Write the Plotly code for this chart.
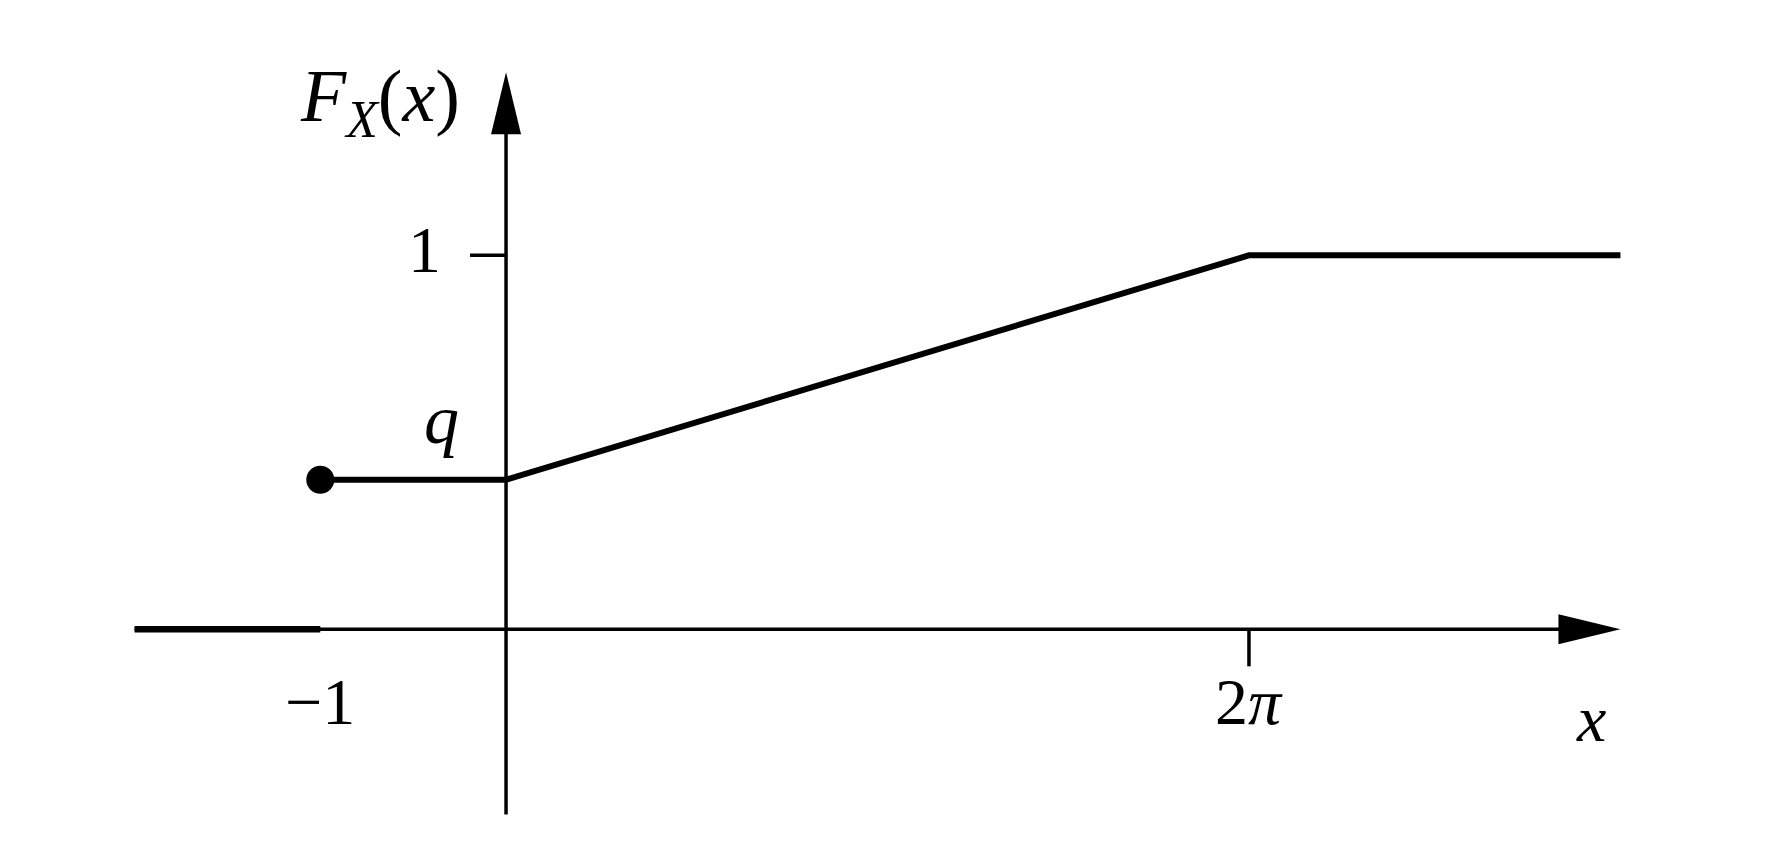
import plotly.graph_objects as go

# schematic CDF of X: jump to q at x = -1, linear to 1 at x = 2π, flat afterwards
X_ZERO = [-2.0, -1.0]
Y_ZERO = [0.0, 0.0]
X_CDF = [-1.0, 0.0, 4.0, 6.0]
Q = 0.4
Y_CDF = [Q, Q, 1.0, 1.0]
X_TICK_VALS = [-1.0, 4.0]
X_TICK_TEXT = ["\u22121", "2<i>\u03c0</i>"]
Y_TICK_VALS = [1.0]
Y_TICK_TEXT = ["1"]

W, H = 1772, 852
X_RANGE = [-2.1, 6.1]
Y_RANGE = [-0.55, 1.6]
MARGIN = {"l": 108, "r": 141, "t": 23, "b": 25}

px_x = (W - MARGIN["l"] - MARGIN["r"]) / (X_RANGE[1] - X_RANGE[0])
px_y = (H - MARGIN["t"] - MARGIN["b"]) / (Y_RANGE[1] - Y_RANGE[0])

FONT = "Liberation Serif, Times New Roman, serif"
FS = 66

fig = go.Figure()

# F = 0 part lies on the axis, drawn heavier
fig.add_trace(go.Scatter(x=X_ZERO, y=Y_ZERO, mode="lines",
                         line={"color": "black", "width": 6.5}, hoverinfo="skip"))
fig.add_trace(go.Scatter(x=X_CDF, y=Y_CDF, mode="lines",
                         line={"color": "black", "width": 6}, hoverinfo="skip"))
fig.add_trace(go.Scatter(x=[X_CDF[0]], y=[Y_CDF[0]], mode="markers",
                         marker={"color": "black", "size": 28}, hoverinfo="skip"))

shapes = []
x_end = 6.0
y_top = 1.49
y_bot = -0.495
axis_line = {"color": "black", "width": 3.5}
# axes
shapes.append(dict(type="line", x0=X_ZERO[0], x1=x_end - 0.2, y0=0, y1=0, line=axis_line))
shapes.append(dict(type="line", x0=0, x1=0, y0=y_bot, y1=y_top - 0.1, line=axis_line))
# arrow heads: 62 px long, 30 px wide
al, aw = 62, 15
shapes.append(dict(type="path", fillcolor="black", line={"width": 0},
                   path=f"M {x_end} 0 L {x_end - al / px_x} {aw / px_y} "
                        f"L {x_end - al / px_x} {-aw / px_y} Z"))
shapes.append(dict(type="path", fillcolor="black", line={"width": 0},
                   path=f"M 0 {y_top} L {aw / px_x} {y_top - al / px_y} "
                        f"L {-aw / px_x} {y_top - al / px_y} Z"))
# tick marks
for v in Y_TICK_VALS:
    shapes.append(dict(type="line", x0=-36 / px_x, x1=0, y0=v, y1=v, line=axis_line))
shapes.append(dict(type="line", x0=X_TICK_VALS[1], x1=X_TICK_VALS[1], y0=0, y1=-37 / px_y,
                   line=axis_line))

annotations = []
for v, t in zip(X_TICK_VALS, X_TICK_TEXT):
    annotations.append(dict(x=v, y=-72 / px_y, text=t, showarrow=False,
                            font={"family": FONT, "size": FS, "color": "black"}))
for v, t in zip(Y_TICK_VALS, Y_TICK_TEXT):
    annotations.append(dict(x=-82 / px_x, y=v + 6 / px_y, text=t, showarrow=False,
                            font={"family": FONT, "size": FS, "color": "black"}))
annotations.append(dict(x=5.84, y=-89 / px_y, text="<i>x</i>", showarrow=False,
                        font={"family": FONT, "size": FS, "color": "black"}))
annotations.append(dict(x=-0.35, y=Q + 60 / px_y, text="<i>q</i>", showarrow=False,
                        font={"family": FONT, "size": FS + 4, "color": "black"}))
annotations.append(dict(x=-0.68, y=(630 - 102) / px_y,
                        text="<i>F</i><sub><i>X</i></sub>(<i>x</i>)", showarrow=False,
                        font={"family": FONT, "size": 74, "color": "black"}))

fig.update_layout(
    width=W, height=H, margin=MARGIN,
    paper_bgcolor="white", plot_bgcolor="white",
    showlegend=False, shapes=shapes, annotations=annotations,
    xaxis={"range": X_RANGE, "visible": False, "fixedrange": True},
    yaxis={"range": Y_RANGE, "visible": False, "fixedrange": True},
)

fig.write_html("out.html")
